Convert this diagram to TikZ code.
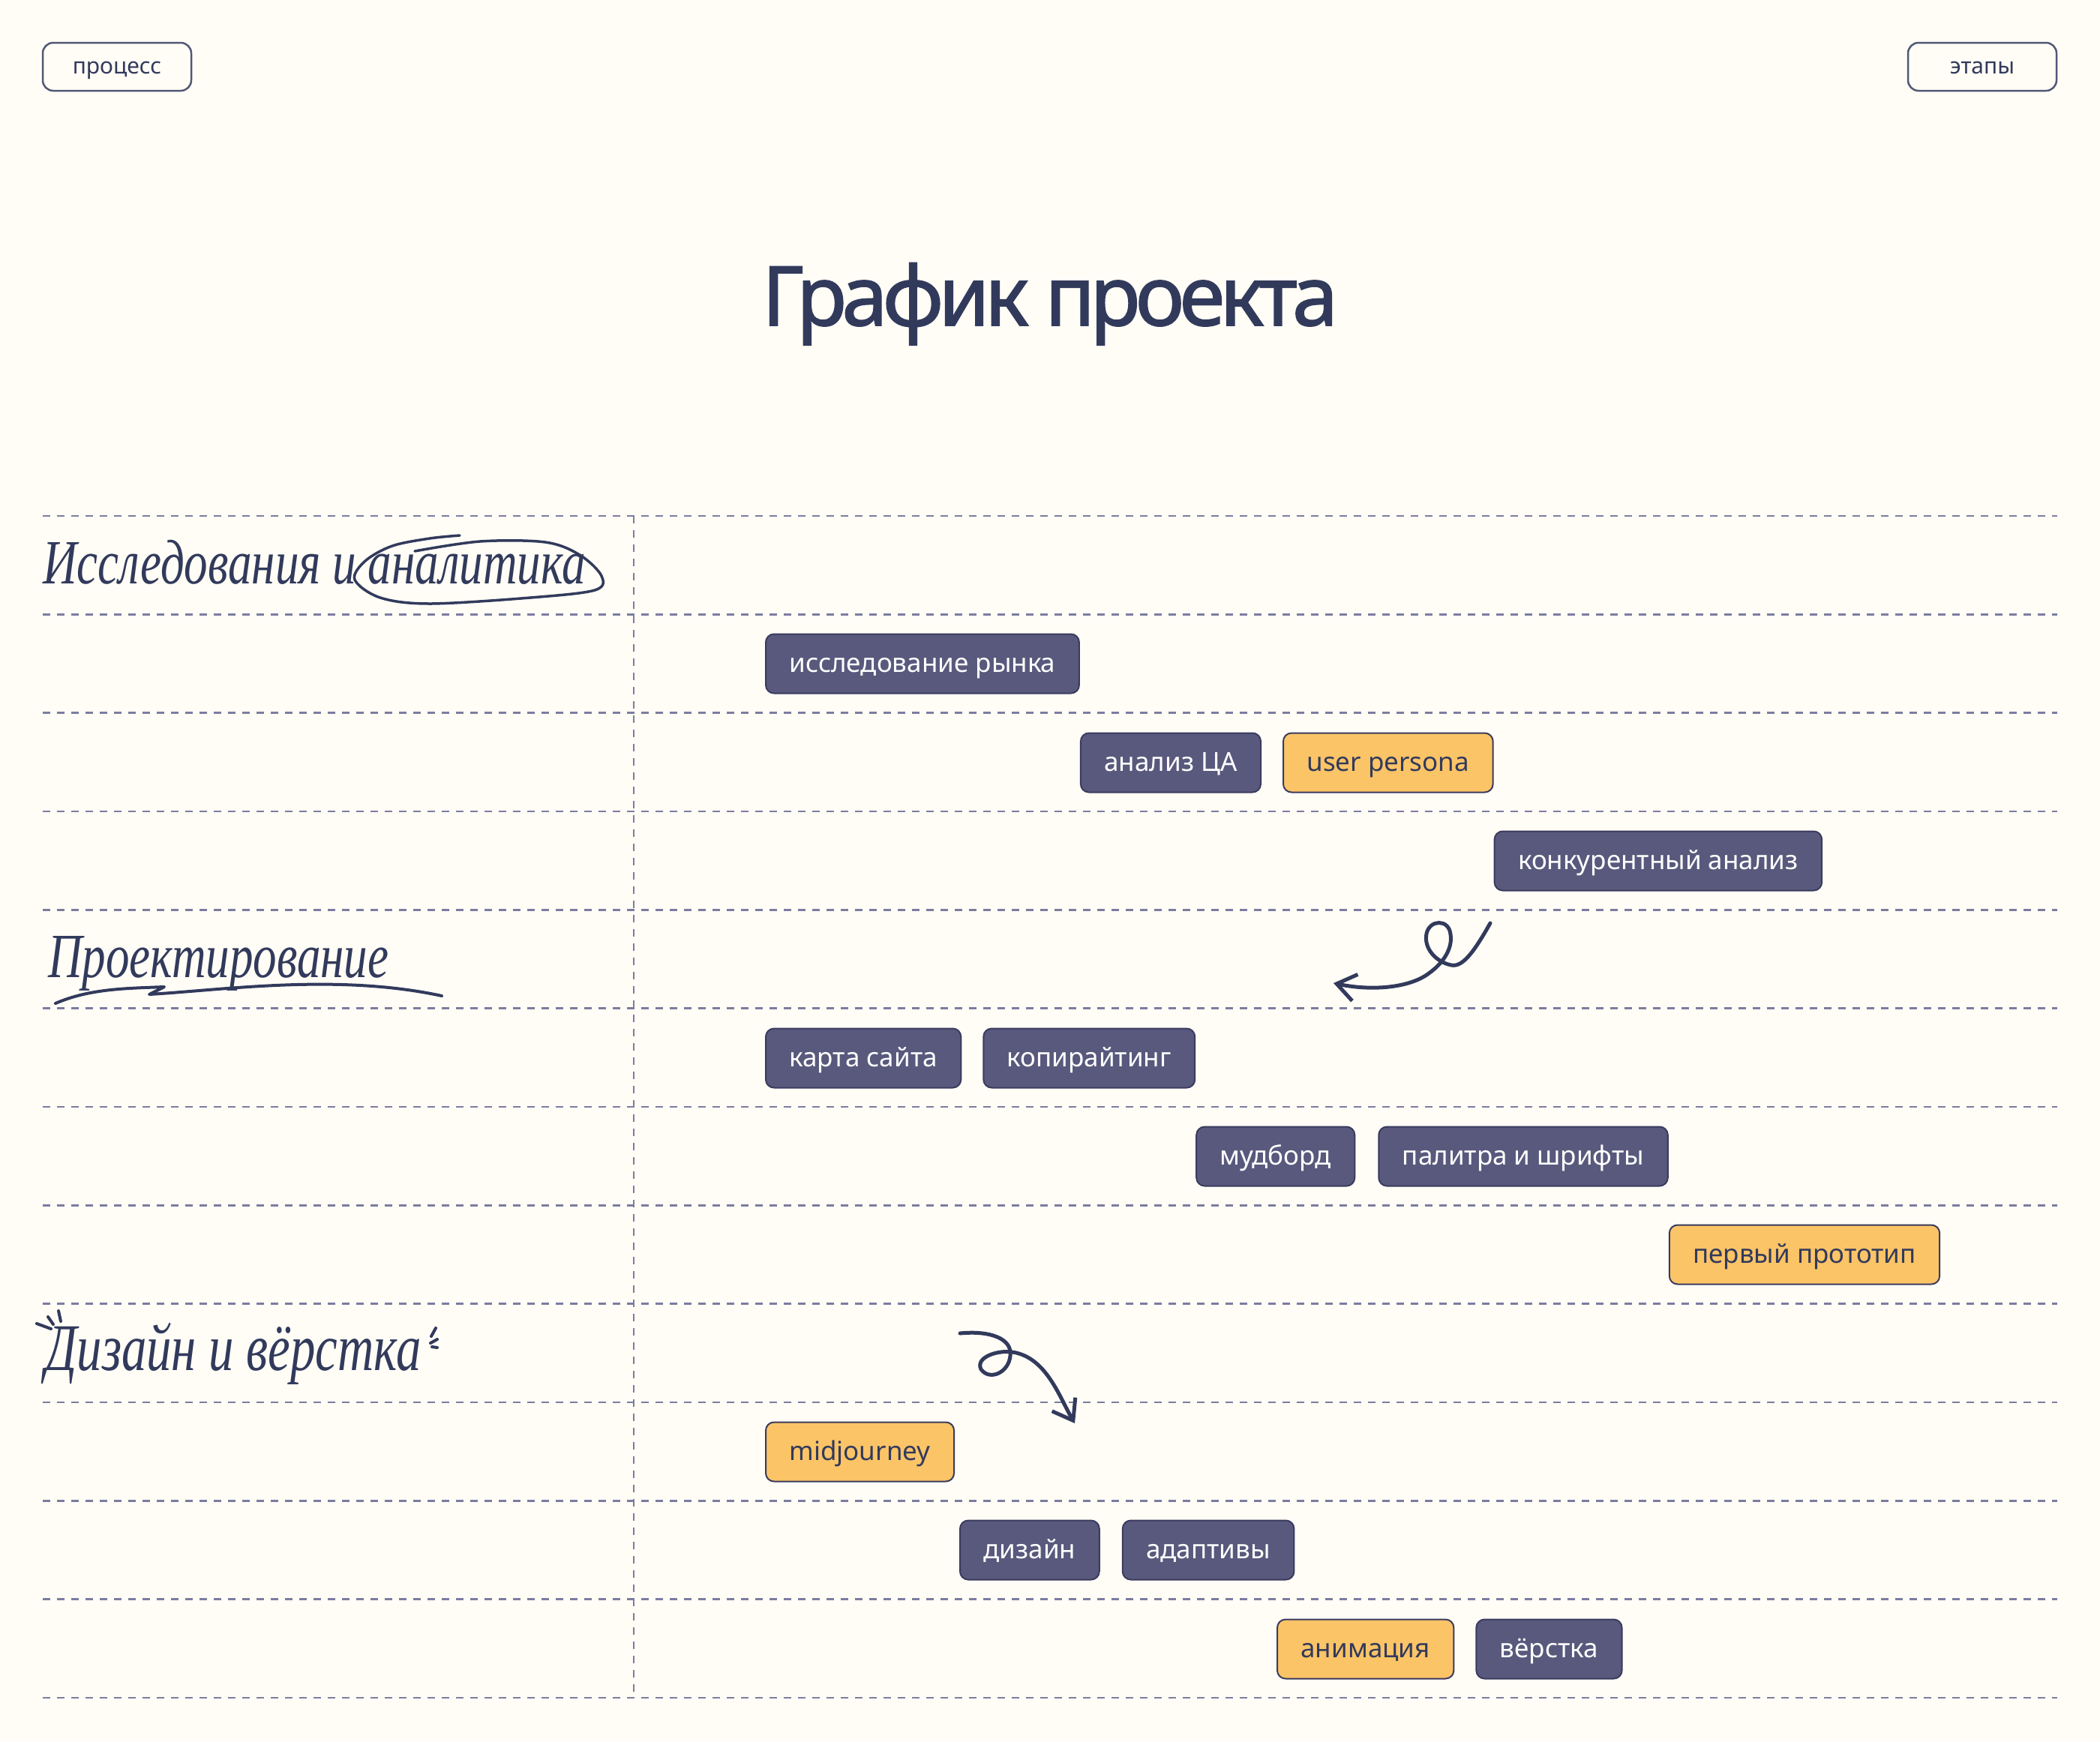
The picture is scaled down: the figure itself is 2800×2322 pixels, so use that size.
\documentclass[tikz,border=0pt]{standalone}
\usepackage{fontspec}
\usepackage{xcolor}
\usepackage{tikz}
\usetikzlibrary{positioning, arrows.meta, calc}

\setmainfont{Noto Sans}
\newfontfamily\titlefont{Noto Sans}[FakeBold=1.5, LetterSpace=-6]
\newfontfamily\handfont{Liberation Serif}[FakeStretch=0.75]

\definecolor{bg}{HTML}{FFFDF6}
\definecolor{ink}{HTML}{323A5C}
\definecolor{plum}{HTML}{59597D}
\definecolor{plumedge}{HTML}{3B3B5F}
\definecolor{sun}{HTML}{FBC467}
\definecolor{gridc}{HTML}{7C7CA0}

\begin{document}
\begin{tikzpicture}[x=1pt, y=-1pt,
  task/.style={rounded corners=11pt, draw=plumedge, line width=2pt, minimum height=79pt, inner xsep=31.5pt, text height=28pt, text depth=6pt, anchor=west, font=\fontsize{35}{40}\selectfont},
  dark/.style={task, fill=plum, text=white},
  light/.style={task, fill=sun, text=ink},
  tab/.style={rounded corners=14pt, draw=ink!85, line width=2.5pt, fill=bg, minimum width=198pt, minimum height=64pt, text height=24pt, text depth=5pt, text=ink, font=\fontsize{30}{34}\selectfont},
  rowline/.style={gridc, line width=2.5pt, dash pattern=on 10pt off 9pt},
  hand/.style={ink, line width=5pt, line cap=round, line join=round},
  stage/.style={text=ink, anchor=base west, inner sep=0pt, font=\handfont\itshape\fontsize{84}{90}\selectfont}]

\fill[bg] (0,0) rectangle (2800,2322);
\useasboundingbox (0,0) rectangle (2800,2322);

\node[tab] (proc) at (156,89) {процесс};
\node[tab] (stages) at (2643,89) {этапы};
\node[text=ink, anchor=base, inner sep=0pt, font=\titlefont\fontsize{110}{120}\selectfont] (title) at (1400,434) {График проекта};

\foreach \k in {0,...,12}
  \draw[rowline] (57,{688+131.33*\k}) -- (2743,{688+131.33*\k});
\draw[rowline] (845,688) -- (845,2264);

\node[stage] (research) at (57,778) {Исследования и аналитика};
\node[stage] (planning) at (64,1303) {Проектирование};
\node[stage, font=\handfont\itshape\fontsize{89}{94}\selectfont] (build) at (60,1827) {Дизайн и вёрстка};

\node[dark] (market) at (1020,885) {исследование рынка};
\node[dark] (audience) at (market.east |- 0,1017) {анализ ЦА};
\node[light, right=28pt of audience] (persona) {user persona};
\node[dark] (rivals) at (persona.east |- 0,1148) {конкурентный анализ};

\node[dark] (sitemap) at (1020,1411) {карта сайта};
\node[dark, right=28pt of sitemap] (copy) {копирайтинг};
\node[dark] (mood) at (copy.east |- 0,1542) {мудборд};
\node[dark, right=30pt of mood] (palette) {палитра и шрифты};
\node[light] (proto) at (palette.east |- 0,1673) {первый прототип};

\node[light] (mj) at (1020,1936) {midjourney};
\node[dark] (design) at (1279,2067) {дизайн};
\node[dark, right=29pt of design] (adapt) {адаптивы};
\node[light] (anim) at (1702,2199) {анимация};
\node[dark, right=28pt of anim] (layout) {вёрстка};

\draw[hand, line width=3.5pt] plot[smooth, tension=0.55] coordinates {(553,735) (640,722) (727,723) (773,740) (802,768) (793,787) (707,797) (573,805) (507,797) (473,773) (487,748) (523,728) (573,718) (613,714)};
\draw[hand, line width=4pt] (74,1338) .. controls (120,1318) and (170,1318) .. (219,1316) -- (199,1326) .. controls (300,1320) and (450,1298) .. (589,1328);

\draw[hand, line width=4pt] (49,1765) -- (68,1772);
\draw[hand, line width=4pt] (64,1756) -- (71,1766);
\draw[hand, line width=4pt] (78,1748) -- (81,1762);
\draw[hand, line width=4pt] (581,1771) -- (575,1782);
\draw[hand, line width=4pt] (583,1786) -- (574,1791);
\draw[hand, line width=4pt] (576,1796) -- (583,1797);

\coordinate (loopA) at (1987,1231);
\coordinate (loopB) at (1280,1778);
\draw[hand, -{Straight Barb[length=25pt, width=36pt]}] (loopA) .. controls (1965,1270) and (1950,1290) .. (1935,1287) .. controls (1915,1283) and (1898,1265) .. (1902,1245) .. controls (1906,1226) and (1932,1225) .. (1934,1246) .. controls (1937,1264) and (1925,1284) .. (1905,1298) .. controls (1880,1317) and (1830,1322) .. (1778,1311);
\draw[hand, -{Straight Barb[length=25pt, width=36pt]}] (loopB) .. controls (1320,1774) and (1350,1785) .. (1347,1808) .. controls (1345,1830) and (1320,1842) .. (1308,1826) .. controls (1300,1810) and (1330,1800) .. (1350,1803) .. controls (1395,1810) and (1412,1862) .. (1433,1898);
\end{tikzpicture}
\end{document}
